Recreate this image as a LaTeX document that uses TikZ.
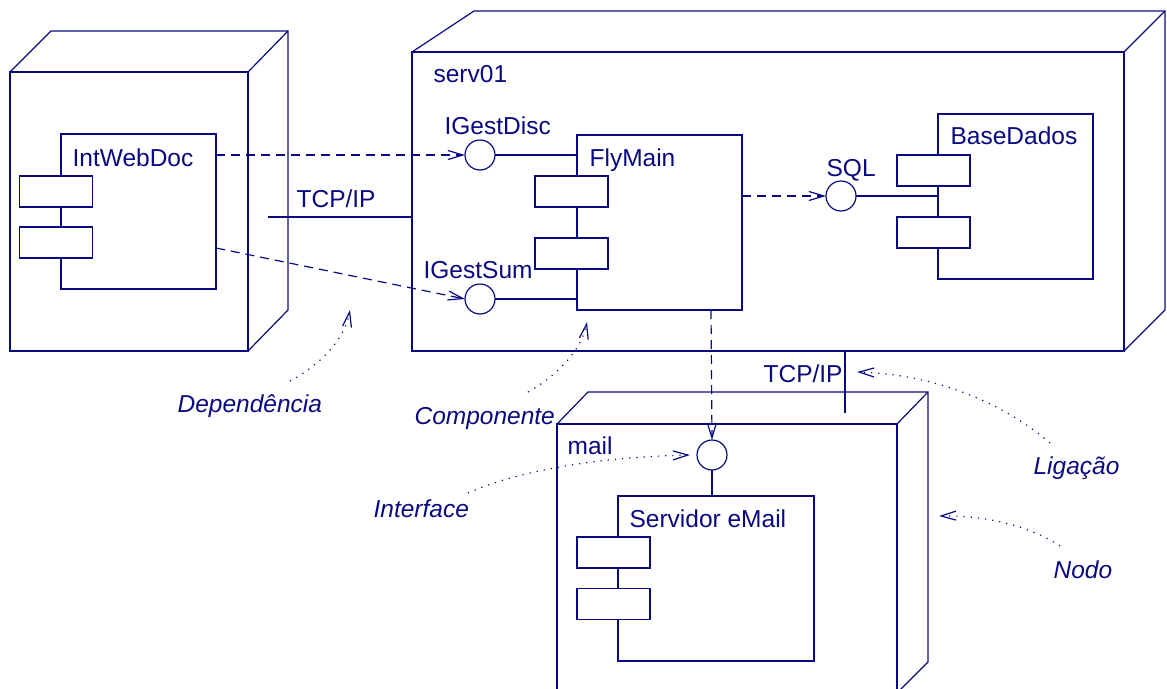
\documentclass[tikz,border=0pt]{standalone}
\usepackage{fontspec}
\setmainfont{Liberation Sans}
\usetikzlibrary{arrows.meta,calc}
\definecolor{navy}{RGB}{10,10,128}
\begin{document}
\begin{tikzpicture}[x=1pt,y=-1pt,line width=1.2pt,color=navy,
  nodeface/.style={draw=navy,rectangle,inner sep=0pt,outer sep=0pt},
  comp/.style={draw=navy,fill=white,rectangle,inner sep=0pt,outer sep=0pt},
  port/.style={draw=navy,fill=white,rectangle,inner sep=0pt,outer sep=0pt,minimum width=73pt,minimum height=31pt},
  iface/.style={draw=navy,fill=white,circle,inner sep=0pt,outer sep=0pt,minimum size=30pt},
  lbl/.style={anchor=base west,inner sep=0pt,font=\fontsize{24.5}{28}\selectfont,text=navy},
  note/.style={anchor=base west,inner sep=0pt,font=\fontsize{24.5}{28}\selectfont\itshape,text=navy},
  dep/.style={draw=navy,dash pattern=on 9pt off 6pt,-{Straight Barb[length=15pt,width=9pt]}},
  ann/.style={draw=navy,dash pattern=on 1.2pt off 6pt,-{Straight Barb[length=15pt,width=9pt]}},
  wire/.style={draw=navy}]
\useasboundingbox (0,0) rectangle (1167,688);
\clip (0,0) rectangle (1167,688);

% ---- node 1 (left)
\node[nodeface,minimum width=238pt,minimum height=279pt] (n1) at (129,211.5) {};
\draw[line join=miter] (n1.north west) -- (51,31) -- (288,31) -- (288,310) -- (n1.south east);
\draw (n1.north east) -- (288,31);

% ---- node serv01
\node[nodeface,minimum width=712pt,minimum height=299pt] (s1) at (768,201.5) {};
\draw[line join=miter] (s1.north west) -- (474,11) -- (1165,11) -- (1165,310) -- (s1.south east);
\draw (s1.north east) -- (1165,11);

% ---- node mail
\node[nodeface,minimum width=340pt,minimum height=296pt] (m1) at (727,572) {};
\draw[line join=miter] (m1.north west) -- (588,392) -- (928,392) -- (928,662) -- (897,693);
\draw (m1.north east) -- (928,392);

% ---- components
\node[comp,minimum width=155pt,minimum height=155pt] (iwd) at (138.5,211.5) {};
\node[port] (iwdp1) at (56,191.5) {};
\node[port] (iwdp2) at (56,242.5) {};

\node[comp,minimum width=165pt,minimum height=175pt] (fly) at (659.5,222.5) {};
\node[port] (flyp1) at (571.5,191.5) {};
\node[port] (flyp2) at (571.5,253.5) {};

\node[comp,minimum width=155pt,minimum height=165pt] (bd) at (1015.5,196.5) {};
\node[port] (bdp1) at (933.5,170.5) {};
\node[port] (bdp2) at (933.5,232.5) {};

\node[comp,minimum width=196pt,minimum height=165pt] (sm) at (716,578.5) {};
\node[port] (smp1) at (613.5,552.5) {};
\node[port] (smp2) at (613.5,604) {};

% ---- interfaces
\node[iface] (igd) at (480,155) {};
\node[iface] (igs) at (480,299) {};
\node[iface] (sql) at (841,196) {};
\node[iface] (mail) at (712,455) {};

\draw[wire] (igd.east) -- (igd.east -| fly.west);
\draw[wire] (igs.east) -- (igs.east -| fly.west);
\draw[wire] (sql.east) -- (sql.east -| bd.west);
\draw[wire] (mail.south) -- (mail.south |- sm.north);

% ---- links
\coordinate (l1) at (268,217);
\draw[wire] (l1) -- (l1 -| s1.west);
\coordinate (l2) at (845,413);
\draw[wire] (s1.south -| l2) -- (l2);

% ---- dependencies
\draw[dep] (iwd.east |- igd.west) -- (igd.west);
\coordinate (d2) at (216,248);
\draw[dep] (d2) -- (igs.west);
\draw[dep] (fly.east |- sql.west) -- (sql.west);
\coordinate (d4) at (711,310);
\draw[dep] (d4) -- (mail.north);

% ---- labels
\node[lbl] (tIWD) at (72,166) {IntWebDoc};
\node[lbl] (tServ) at (433,82) {serv01};
\node[lbl] (tIGD) at (444,134) {IGestDisc};
\node[lbl] (tFly) at (589,166) {FlyMain};
\node[lbl] (tIGS) at (423,278) {IGestSum};
\node[lbl] (tSQL) at (826,176) {SQL};
\node[lbl] (tBD) at (950,144) {BaseDados};
\node[lbl] (tTCP1) at (296,207) {TCP/IP};
\node[lbl] (tTCP2) at (763,382) {TCP/IP};
\node[lbl] (tMail) at (567,454) {mail};
\node[lbl] (tSM) at (629,527) {Servidor eMail};

% ---- annotations
\node[note] (aDep) at (177,412) {Dependência};
\node[note] (aComp) at (414,424) {Componente};
\node[note] (aInt) at (373,517) {Interface};
\node[note] (aLig) at (1033,474) {Ligação};
\node[note] (aNodo) at (1053,578) {Nodo};

\coordinate (e1) at (350,310);
\coordinate (e2) at (587,322);
\coordinate (e3) at (690,455);
\coordinate (e4) at (857,372);
\coordinate (e5) at (939,516);
\draw[ann] (290,381) .. controls (322,364) and (345,338) .. (e1);
\draw[ann] (528,392) .. controls (560,374) and (582,348) .. (e2);
\draw[ann] (468,493) .. controls (520,470) and (600,457) .. (e3);
\draw[ann] (1050,443) .. controls (1000,400) and (930,374) .. (e4);
\draw[ann] (1060,546) .. controls (1030,526) and (985,515) .. (e5);
\end{tikzpicture}
\end{document}
